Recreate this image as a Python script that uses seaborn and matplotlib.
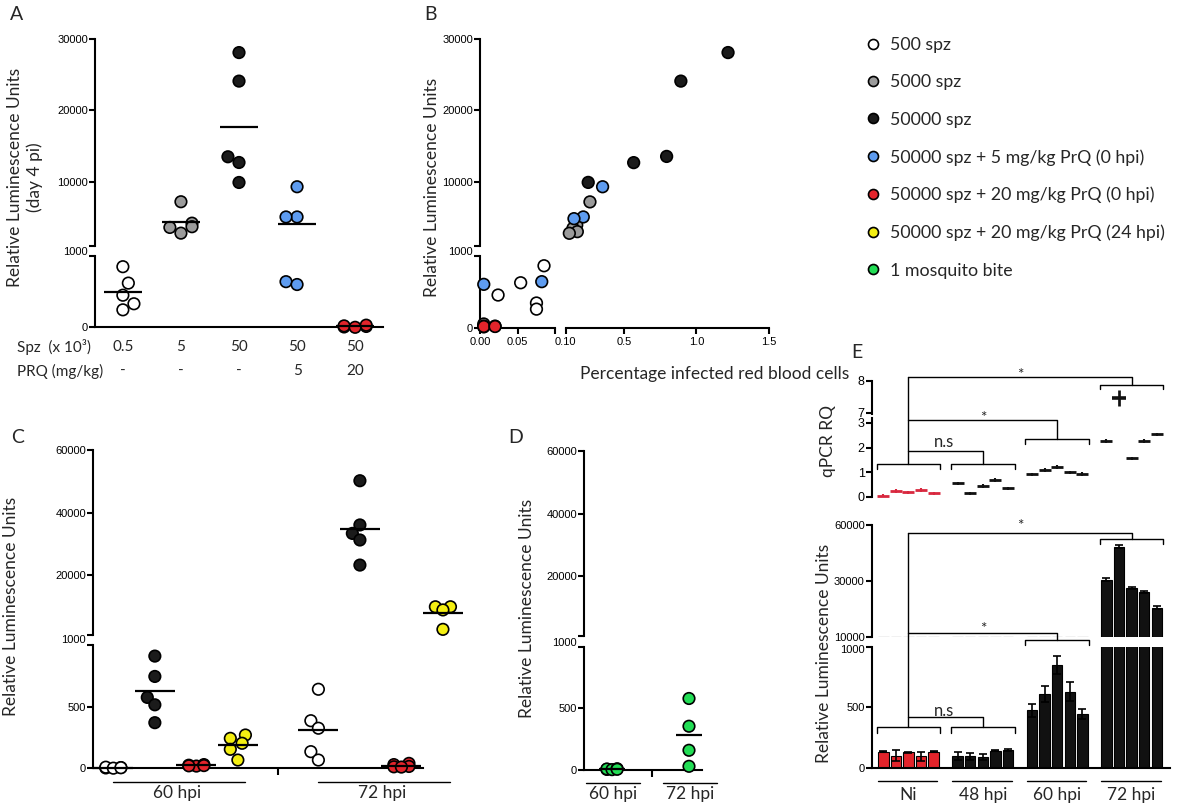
import numpy as np
import pandas as pd
import matplotlib
matplotlib.use("Agg")
import matplotlib.pyplot as plt
import matplotlib.transforms as mtransforms
from matplotlib.lines import Line2D
import seaborn as sns

# ---------------- data ----------------
group_names = ["500 spz", "5000 spz", "50000 spz",
               "50000 spz + 5 mg/kg PrQ (0 hpi)",
               "50000 spz + 20 mg/kg PrQ (0 hpi)",
               "50000 spz + 20 mg/kg PrQ (24 hpi)",
               "1 mosquito bite"]
group_colors = ["#ffffff", "#9b9b9b", "#1b1b1b", "#5e9cf0", "#e3242b", "#f4ef12", "#22dd55"]

# Panel A (RLU day 4 pi)
a_spz_labels = ["0.5", "5", "50", "50", "50"]
a_prq_labels = ["-", "-", "-", "5", "20"]
a_white = [850, 620, 450, 330, 245]
a_gray = [7200, 3600, 4200, 3700, 2800]
a_black = [28100, 24100, 13500, 12700, 9900]
a_blue = [9300, 5070, 5070, 640, 600]
a_red = [12, 30, 5, 20, 0]

# Panel B (percentage infected RBC vs RLU)
b_white_x = [0.085, 0.054, 0.024, 0.075, 0.075]
b_white_y = [865, 630, 460, 350, 265]
b_gray_x = [0.267, 0.176, 0.150, 0.180, 0.125, 0.005]
b_gray_y = [7180, 3950, 3490, 3010, 2780, 60]
b_black_x = [1.218, 0.893, 0.795, 0.568, 0.255]
b_black_y = [28100, 24100, 13550, 12680, 9910]
b_blue_x = [0.354, 0.221, 0.157, 0.082, 0.005]
b_blue_y = [9300, 5070, 4830, 645, 608]
b_red_x = [0.005, 0.005, 0.005, 0.020, 0.020]
b_red_y = [30, 20, 25, 30, 25]

# Panel C
c_time_labels = ["60 hpi", "72 hpi"]
c_white_60 = [6, 3, 9, 1, 5]
c_black_60 = [910, 745, 575, 515, 370]
c_red_60 = [25, 18, 30, 22, 20]
c_yellow_60 = [270, 243, 203, 154, 67]
c_white_72 = [641, 386, 325, 135, 67]
c_black_72 = [50200, 36100, 33400, 31300, 23300]
c_red_72 = [40, 15, 30, 12, 10]
c_yellow_72 = [10000, 10000, 9000, 2800]

# Panel D
d_time_labels = ["60 hpi", "72 hpi"]
d_green_60 = [5, 8, 3, 10, 6]
d_green_72 = [580, 355, 160, 30]

# Panel E
e_time_labels = ["Ni", "48 hpi", "60 hpi", "72 hpi"]
e_q_ni = [0.05, 0.24, 0.19, 0.27, 0.15]
e_q_48 = [0.55, 0.16, 0.46, 0.69, 0.35]
e_q_60 = [0.92, 1.09, 1.20, 1.01, 0.94]
e_q_72 = [2.27, 7.45, 1.57, 2.27, 2.54]
e_q_err_ni = [0.06, 0.07, 0.06, 0.08, 0.06]
e_q_err_48 = [0.07, 0.06, 0.08, 0.07, 0.06]
e_q_err_60 = [0.06, 0.07, 0.08, 0.06, 0.07]
e_q_err_72 = [0.07, 0.25, 0.07, 0.07, 0.07]
e_rlu_ni = [136, 101, 131, 95, 136]
e_rlu_48 = [101, 95, 90, 144, 150]
e_rlu_60 = [475, 612, 848, 629, 446]
e_rlu_72 = [30600, 48400, 27500, 26000, 20500]
e_rlu_err_ni = [5, 45, 5, 35, 5]
e_rlu_err_48 = [35, 28, 28, 5, 8]
e_rlu_err_60 = [55, 66, 77, 76, 41]
e_rlu_err_72 = [600, 700, 300, 450, 450]

# ---------------- style ----------------
sns.set_theme(style="white")
TXT = ["Lato", "DejaVu Sans"]
TICKF = ["Liberation Sans", "DejaVu Sans"]
plt.rcParams["font.family"] = TXT
plt.rcParams["axes.edgecolor"] = "black"
pal = dict(zip(group_names, group_colors))
FS = 12.5

W, H = 1200, 807
fig = plt.figure(figsize=(W / 100, H / 100), dpi=100)


def ax_px(x0, y0, x1, y1):
    return fig.add_axes([x0 / W, 1 - y1 / H, (x1 - x0) / W, (y1 - y0) / H])


def below(ax, px):
    return ax.get_xaxis_transform() + mtransforms.ScaledTranslation(0, -px / 100, fig.dpi_scale_trans)


def style(ax, xlim, ylim, yticks=None, ylabels=None, left=True, bottom=False):
    ax.set_xlim(*xlim)
    ax.set_ylim(*ylim)
    ax.set_facecolor("none")
    ax.grid(False)
    for s in ["top", "right"]:
        ax.spines[s].set_visible(False)
    ax.spines["left"].set_visible(left)
    ax.spines["bottom"].set_visible(bottom)
    for s in ["left", "bottom"]:
        ax.spines[s].set_linewidth(1.5)
        ax.spines[s].set_color("black")
    ax.set_xlabel("")
    ax.set_ylabel("")
    ax.set_xticks([])
    if left and yticks is not None:
        ax.set_yticks(yticks)
        ax.set_yticklabels(ylabels, fontfamily=TICKF, fontsize=8, color="black")
        ax.tick_params(axis="y", direction="out", length=4, width=1.5, pad=1, colors="black", left=True)
    else:
        ax.set_yticks([])


def break_label(ax, text, y, dy_px, size=8):
    tr = ax.get_yaxis_transform() + mtransforms.ScaledTranslation(-5 / 72, dy_px / 100, fig.dpi_scale_trans)
    ax.text(0, y, text, transform=tr, ha="right", va="center_baseline", fontfamily=TICKF,
            fontsize=size, color="black", clip_on=False)


def swarm(ax, df, size=8.3):
    # one call per column so the swarm width is set by the column scale
    for pos, sub in df.groupby("pos"):
        sns.swarmplot(data=sub, x="pos", y="val", hue="grp", palette=pal, native_scale=True,
                      orient="x", size=size, edgecolor="black", linewidth=1.2, legend=False,
                      ax=ax, warn_thresh=1)
    for coll in ax.collections:
        coll.set_clip_on(False)
        coll.set_zorder(3)


def mean_lines(ax_top, ax_low, df, half, brk):
    for (grp, pos), sub in df.groupby(["grp", "pos"]):
        m = sub["val"].mean()
        ax = ax_top if m >= brk else ax_low
        ax.plot([pos - half, pos + half], [m, m], color="black", lw=1.6, zorder=5,
                solid_capstyle="butt", clip_on=False)


def build(series_list, groups, step, k):
    rows = []
    for t, series in enumerate(series_list):
        for j, vals in enumerate(series):
            for v in vals:
                rows.append((group_names[groups[j]], (t * step + j) * k, v))
    return pd.DataFrame(rows, columns=["grp", "pos", "val"])


# ================= Panel A =================
KA = 2.1
axA_t = ax_px(95, 39, 383, 246)
axA_l = ax_px(95, 256, 383, 327.3)
dfA = build([[a_white, a_gray, a_black, a_blue, a_red]], [0, 1, 2, 3, 4], 0, KA)
swarm(axA_t, dfA[dfA.val >= 1000])
swarm(axA_l, dfA[dfA.val < 1000])
mean_lines(axA_t, axA_l, dfA, 0.33 * KA, 1000)
A_XL = (-0.48 * KA, 4.48 * KA)
style(axA_t, A_XL, (1000, 30000), [1000, 10000, 20000, 30000], ["", "10000", "20000", "30000"])
style(axA_l, A_XL, (0, 1000), [0, 1000], ["0", ""], bottom=True)
break_label(axA_l, "1000", 1000, 5)
for i, (s, p) in enumerate(zip(a_spz_labels, a_prq_labels)):
    axA_l.text(i * KA, 0, s, transform=below(axA_l, 20), ha="center", va="center", fontsize=11)
    axA_l.text(i * KA, 0, p, transform=below(axA_l, 44), ha="center", va="center", fontsize=11)
fig.text(17 / W, 1 - 347 / H, "Spz  (x 10\u00b3)", ha="left", va="center", fontsize=11)
fig.text(17 / W, 1 - 371 / H, "PRQ (mg/kg)", ha="left", va="center", fontsize=11)
fig.text(25 / W, 1 - 177 / H, "Relative Luminescence Units\n(day 4 pi)", rotation=90,
         ha="center", va="center", multialignment="center", fontsize=FS, linespacing=1.2)

# ================= Panel B =================
axB_tl = ax_px(480, 39, 555.3, 246)
axB_tr = ax_px(565.7, 39, 769, 246)
axB_bl = ax_px(480, 256, 555.3, 328.3)
axB_br = ax_px(565.7, 256, 769, 328.3)
rowsB = []
for gi, xs, ys in [(0, b_white_x, b_white_y), (1, b_gray_x, b_gray_y), (2, b_black_x, b_black_y),
                   (3, b_blue_x, b_blue_y), (4, b_red_x, b_red_y)]:
    for xv, yv in zip(xs, ys):
        rowsB.append((group_names[gi], xv, yv))
dfB = pd.DataFrame(rowsB, columns=["grp", "x", "y"])


def bscatter(ax, df):
    if len(df) == 0:
        return
    sns.scatterplot(data=df, x="x", y="y", hue="grp", palette=pal, s=70, edgecolor="black",
                    linewidth=1.2, legend=False, ax=ax, zorder=3, clip_on=False)


bscatter(axB_tr, dfB[(dfB.x >= 0.1) & (dfB.y >= 1000)])
bscatter(axB_bl, dfB[(dfB.x < 0.1) & (dfB.y < 1000)])
style(axB_tl, (0, 0.10), (1000, 30000), [1000, 10000, 20000, 30000], ["", "10000", "20000", "30000"])
style(axB_tr, (0.1, 1.5), (1000, 30000), left=False)
style(axB_bl, (0, 0.10), (0, 1000), [0, 1000], ["0", ""], bottom=True)
style(axB_br, (0.1, 1.5), (0, 1000), left=False, bottom=True)
break_label(axB_bl, "1000", 1000, 5)
axB_bl.set_xticks([0, 0.05, 0.10])
axB_bl.set_xticklabels(["0.00", "0.05", ""], fontfamily=TICKF, fontsize=8)
axB_br.set_xticks([0.1, 0.5, 1.0, 1.5])
axB_br.set_xticklabels(["0.10", "0.5", "1.0", "1.5"], fontfamily=TICKF, fontsize=8)
for ax in (axB_bl, axB_br):
    ax.tick_params(axis="x", bottom=True, direction="out", length=4, width=1.5, pad=2, colors="black")
fig.text(715 / W, 1 - 374 / H, "Percentage infected red blood cells", ha="center", va="center", fontsize=FS)
fig.text(432 / W, 1 - 187 / H, "Relative Luminescence Units", rotation=90, ha="center", va="center", fontsize=FS)

# ================= Panel C =================
KC = 2.2
C_STEP = 4.94
axC_t = ax_px(93, 450, 423, 635)
axC_l = ax_px(93, 645, 423, 768.3)
dfC = build([[c_white_60, c_black_60, c_red_60, c_yellow_60],
             [c_white_72, c_black_72, c_red_72, c_yellow_72]], [0, 2, 4, 5], C_STEP, KC)
swarm(axC_t, dfC[dfC.val >= 1000])
swarm(axC_l, dfC[dfC.val < 1000])
mean_lines(axC_t, axC_l, dfC, 0.48 * KC, 1000)
C_XL = (-0.49 * KC, 7.46 * KC)
style(axC_t, C_XL, (1000, 60000), [1000, 20000, 40000, 60000], ["", "20000", "40000", "60000"])
style(axC_l, C_XL, (0, 1000), [0, 500, 1000], ["0", "500", ""], bottom=True)
break_label(axC_l, "1000", 1000, 6)
axC_l.set_xticks([(3 + C_STEP) / 2 * KC])
axC_l.set_xticklabels([""])
axC_l.tick_params(axis="x", bottom=True, direction="out", length=5, width=1.5, colors="black")
for t, lab in enumerate(c_time_labels):
    c = (t * C_STEP + 1.5) * KC
    axC_l.plot([c - 1.5 * KC, c + 1.68 * KC], [0, 0], transform=below(axC_l, 13.4), color="black",
               lw=1.0, clip_on=False)
    axC_l.text(c + 0.03 * KC, 0, lab, transform=below(axC_l, 25), ha="center", va="center", fontsize=FS)
fig.text(11 / W, 1 - 606 / H, "Relative Luminescence Units", rotation=90, ha="center", va="center", fontsize=FS)

# ================= Panel D =================
KD = 6.0
axD_t = ax_px(584, 450.7, 702, 636)
axD_l = ax_px(584, 646.7, 702, 770)
dfD = build([[d_green_60], [d_green_72]], [6], 1, KD)
swarm(axD_t, dfD[dfD.val >= 1000])
swarm(axD_l, dfD[dfD.val < 1000])
mean_lines(axD_t, axD_l, dfD, 0.17 * KD, 1000)
D_XL = (-0.364 * KD, 1.169 * KD)
style(axD_t, D_XL, (1000, 60000), [1000, 20000, 40000, 60000], ["", "20000", "40000", "60000"])
style(axD_l, D_XL, (0, 1000), [0, 500, 1000], ["0", "500", ""], bottom=True)
break_label(axD_l, "1000", 1000, 5)
axD_l.set_xticks([0.52 * KD])
axD_l.set_xticklabels([""])
axD_l.tick_params(axis="x", bottom=True, direction="out", length=5, width=1.5, colors="black")
for t, lab in enumerate(d_time_labels):
    axD_l.plot([(t - 0.34) * KD, (t + 0.37) * KD], [0, 0], transform=below(axD_l, 13), color="black",
               lw=1.0, clip_on=False)
    axD_l.text((t + 0.01) * KD, 0, lab, transform=below(axD_l, 23.5), ha="center", va="center", fontsize=FS)
fig.text(527 / W, 1 - 608 / H, "Relative Luminescence Units", rotation=90, ha="center", va="center", fontsize=FS)

# ================= Panel E =================
E_STEP = 5.9
E_XL = (-0.92, 22.75)
axQ_t = ax_px(871.7, 380.7, 1170, 414)
axQ_l = ax_px(871.7, 418.3, 1170, 497)
axL_t = ax_px(871.7, 525.3, 1170, 637.3)
axL_l = ax_px(871.7, 646.7, 1170, 768)

q_vals = [e_q_ni, e_q_48, e_q_60, e_q_72]
q_errs = [e_q_err_ni, e_q_err_48, e_q_err_60, e_q_err_72]
r_vals = [e_rlu_ni, e_rlu_48, e_rlu_60, e_rlu_72]
r_errs = [e_rlu_err_ni, e_rlu_err_48, e_rlu_err_60, e_rlu_err_72]
e_colors = ["#e3242b", "#111111", "#111111", "#111111"]
q_colors = ["#d8283f", "#111111", "#111111", "#111111"]

for g in range(4):
    pos = np.array([g * E_STEP + i for i in range(5)], dtype=float)
    qv = np.array(q_vals[g])
    qe = np.array(q_errs[g])
    hi = qv >= 5
    for ax, m, ms, mew in [(axQ_l, ~hi, 8.5, 2.0), (axQ_t, hi, 9.5, 2.6)]:
        if m.any():
            ax.errorbar(pos[m], qv[m], yerr=qe[m], fmt="_", color=q_colors[g], ecolor=q_colors[g],
                        markersize=ms, markeredgewidth=mew, elinewidth=mew * 0.75, capsize=0,
                        zorder=4, clip_on=False)
    dfE = pd.DataFrame({"pos": pos, "val": r_vals[g]})
    for ax in (axL_t, axL_l):
        sns.barplot(data=dfE, x="pos", y="val", native_scale=True, orient="x", width=0.83,
                    color=e_colors[g], saturation=1, edgecolor="black", linewidth=0.8,
                    errorbar=None, ax=ax)
    rv = np.array(r_vals[g], dtype=float)
    re = np.array(r_errs[g], dtype=float)
    ax = axL_t if rv.min() >= 10000 else axL_l
    ax.errorbar(pos, rv, yerr=re, fmt="none", ecolor="black", elinewidth=1.2, capsize=2.6,
                capthick=1.2, zorder=5)


def seg_fwd(v):
    return np.interp(v, [10000, 30000, 60000], [0.0, 0.5054, 1.0])


def seg_inv(u):
    return np.interp(u, [0.0, 0.5054, 1.0], [10000, 30000, 60000])


axL_t.set_yscale("function", functions=(seg_fwd, seg_inv))
style(axQ_t, E_XL, (6.96, 8), [7, 8], ["7", "8"])
style(axQ_l, E_XL, (0, 3.19), [0, 1, 2, 3], ["0", "1", "2", "3"])
style(axL_t, E_XL, (10000, 60000), [10000, 30000, 60000], ["10000", "30000", "60000"])
style(axL_l, E_XL, (0, 1000), [0, 500, 1000], ["0", "500", ""], bottom=True)
break_label(axL_l, "1000", 1000, -2.5)
for ax in (axQ_t, axQ_l):
    ax.tick_params(axis="y", labelsize=9)

centers = [g * E_STEP + 2 for g in range(4)]
BH = 2.52
LW = 1.0


def bracket(ax, c, y, drop):
    ax.plot([c - BH, c - BH, c + BH, c + BH], [y - drop, y, y, y - drop], color="black", lw=LW, clip_on=False)


def link(ax, c0, c1, y_top, y_end):
    ax.plot([c0, c1, c1], [y_top, y_top, y_end], color="black", lw=LW, clip_on=False)


c0, c1, c2, c3 = centers
# qPCR brackets (in qPCR lower-segment units)
bracket(axQ_l, c0, 1.32, 0.19)
bracket(axQ_l, c1, 1.32, 0.19)
bracket(axQ_l, c2, 2.34, 0.19)
bracket(axQ_l, c3, 4.55, 0.19)
axQ_l.plot([c0, c0], [1.32, 4.85], color="black", lw=LW, clip_on=False)
link(axQ_l, c0, c1, 1.86, 1.32)
link(axQ_l, c0, c2, 3.12, 2.34)
link(axQ_l, c0, c3, 4.85, 4.55)
axQ_l.text((c0 + c1) / 2 - 0.1, 2.21, "n.s", ha="center", va="center", fontsize=12)
axQ_l.text((c0 + c2) / 2, 3.22, "*", ha="center", va="center", fontsize=11)
axQ_l.text((c0 + c3) / 2, 4.93, "*", ha="center", va="center", fontsize=11)
# RLU brackets (in RLU lower-segment units)
bracket(axL_l, c0, 340, 49)
bracket(axL_l, c1, 340, 49)
bracket(axL_l, c2, 1054, 41)
bracket(axL_l, c3, 1886, 36)
axL_l.plot([c0, c0], [340, 1938], color="black", lw=LW, clip_on=False)
link(axL_l, c0, c1, 418, 340)
link(axL_l, c0, c2, 1114, 1054)
link(axL_l, c0, c3, 1938, 1886)
axL_l.text((c0 + c1) / 2 - 0.1, 472, "n.s", ha="center", va="center", fontsize=12)
axL_l.text((c0 + c2) / 2, 1150, "*", ha="center", va="center", fontsize=11)
axL_l.text((c0 + c3) / 2, 1995, "*", ha="center", va="center", fontsize=11)

for g, lab in enumerate(e_time_labels):
    c = centers[g]
    axL_l.plot([c - 2.43, c + 2.3], [0, 0], transform=below(axL_l, 12.7), color="black", lw=1.0, clip_on=False)
    axL_l.text(c, 0, lab, transform=below(axL_l, 27), ha="center", va="center", fontsize=FS)
fig.text(828 / W, 1 - 441 / H, "qPCR RQ", rotation=90, ha="center", va="center", fontsize=FS)
fig.text(824 / W, 1 - 653 / H, "Relative Luminescence Units", rotation=90, ha="center", va="center", fontsize=FS)

# ================= Legend =================
handles = [Line2D([], [], ls="", marker="o", markersize=7.2, markerfacecolor=c,
                  markeredgecolor="black", markeredgewidth=1.2) for c in group_colors]
fig.legend(handles, group_names, loc="upper left", bbox_to_anchor=(865 / W, 1 - 37 / H),
           frameon=False, fontsize=12.8, handlelength=0.9, handletextpad=0.5,
           labelspacing=1.2, borderpad=0, borderaxespad=0)

# ================= Panel letters =================
for lab, x, y in [("A", 17, 14), ("B", 431, 14), ("C", 18, 437), ("D", 516, 437), ("E", 857, 352)]:
    fig.text(x / W, 1 - y / H, lab, ha="center", va="center", fontsize=14)

fig.savefig("out.png", dpi=100, facecolor="white")
